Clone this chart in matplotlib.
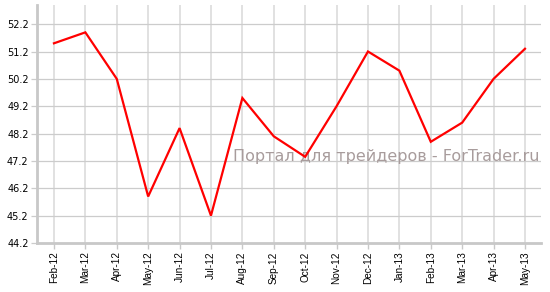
import matplotlib
matplotlib.use("Agg")
import matplotlib.pyplot as plt

months = ["Feb-12", "Mar-12", "Apr-12", "May-12", "Jun-12", "Jul-12", "Aug-12",
          "Sep-12", "Oct-12", "Nov-12", "Dec-12", "Jan-13", "Feb-13", "Mar-13",
          "Apr-13", "May-13"]
values = [51.5, 51.9, 50.2, 45.9, 48.4, 45.2, 49.5, 48.1, 47.35, 49.2, 51.2,
          50.5, 47.9, 48.6, 50.2, 51.3]
yticks = [44.2, 45.2, 46.2, 47.2, 48.2, 49.2, 50.2, 51.2, 52.2]
watermark = "Портал для трейдеров - ForTrader.ru"

W, H = 550, 292
fig = plt.figure(figsize=(W / 100, H / 100), dpi=100)
ax = fig.add_axes([37 / W, 1 - 243 / H, (541 - 37) / W, (243 - 5) / H])

x = list(range(len(months)))
ax.plot(x, values, color="#ff0000", linewidth=1.6, zorder=3, solid_joinstyle="miter")

ax.set_xlim(-0.54, len(months) - 1 + 0.51)
ax.set_ylim(44.2, 52.9)
ax.set_xticks(x)
ax.set_xticklabels(months, rotation=90, fontsize=7.2, family="Liberation Sans")
ax.set_yticks(yticks)
ax.set_yticklabels([f"{v:.1f}" for v in yticks], fontsize=7, family="DejaVu Sans")

ax.xaxis.grid(True, color="#dcdcdc", linewidth=1.2)
ax.yaxis.grid(True, color="#cccccc", linewidth=0.9)
ax.set_axisbelow(True)

for s in ["top", "right"]:
    ax.spines[s].set_visible(False)
for s in ["left", "bottom"]:
    ax.spines[s].set_color("#c8c8c8")
    ax.spines[s].set_linewidth(2.0)

ax.tick_params(axis="x", length=4, width=1, color="#c8c8c8", pad=2, labelcolor="black")
ax.tick_params(axis="y", length=4, width=0.9, color="#cccccc", pad=2, labelcolor="black")

ax.text(0.389, 0.345, watermark, transform=ax.transAxes, fontsize=11.5,
        color="#a89c9c", ha="left", va="baseline", family="DejaVu Sans", zorder=2)

fig.savefig("out.png", dpi=100)
